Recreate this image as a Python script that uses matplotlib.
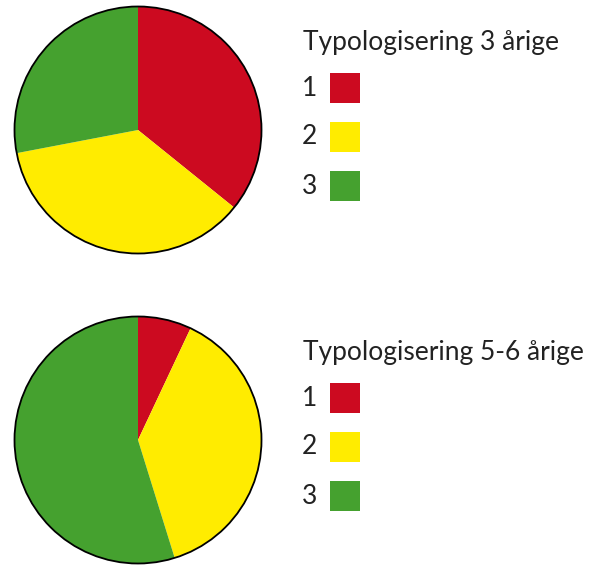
import matplotlib.pyplot as plt
from matplotlib.patches import Circle, Rectangle

plt.rcParams['font.family'] = ['Lato', 'DejaVu Sans']

# data
categories = ['1', '2', '3']
share_3 = [35.8, 36.2, 28.0]
share_56 = [7.0, 38.2, 54.8]
titles = ['Typologisering 3 årige', 'Typologisering 5-6 årige']
colors = ['#cc0a20', '#ffec00', '#45a12f']

W, H = 592, 565
fig = plt.figure(figsize=(W / 100, H / 100), dpi=100)
ax = fig.add_axes([0, 0, 1, 1])
ax.set_xlim(0, W)
ax.set_ylim(0, H)
ax.set_aspect('equal')
ax.axis('off')

r = 123.5
for i, (vals, title) in enumerate(zip([share_3, share_56], titles)):
    off = i * 310
    cx, cy = 138, H - 130 - off
    ax.pie(vals, colors=colors, startangle=90, counterclock=False,
           center=(cx, cy), radius=r, frame=True,
           wedgeprops=dict(linewidth=0))
    ax.add_patch(Circle((cx, cy), r, fill=False, edgecolor='black', lw=1.3))

    # legend
    ax.text(303, H - 50 - off, title, fontsize=19, fontweight='normal',
            color='#222222', va='baseline', ha='left')
    for j, (lab, c) in enumerate(zip(categories, colors)):
        yc = H - 88 - off - j * 49
        ax.text(302, yc, lab, fontsize=19, fontweight='normal',
                color='#222222', va='center', ha='left')
        ax.add_patch(Rectangle((330, yc - 15), 30, 30, facecolor=c,
                               edgecolor='none'))

ax.set_xlim(0, W)
ax.set_ylim(0, H)
ax.axis('off')
fig.savefig('out.png', dpi=100)
